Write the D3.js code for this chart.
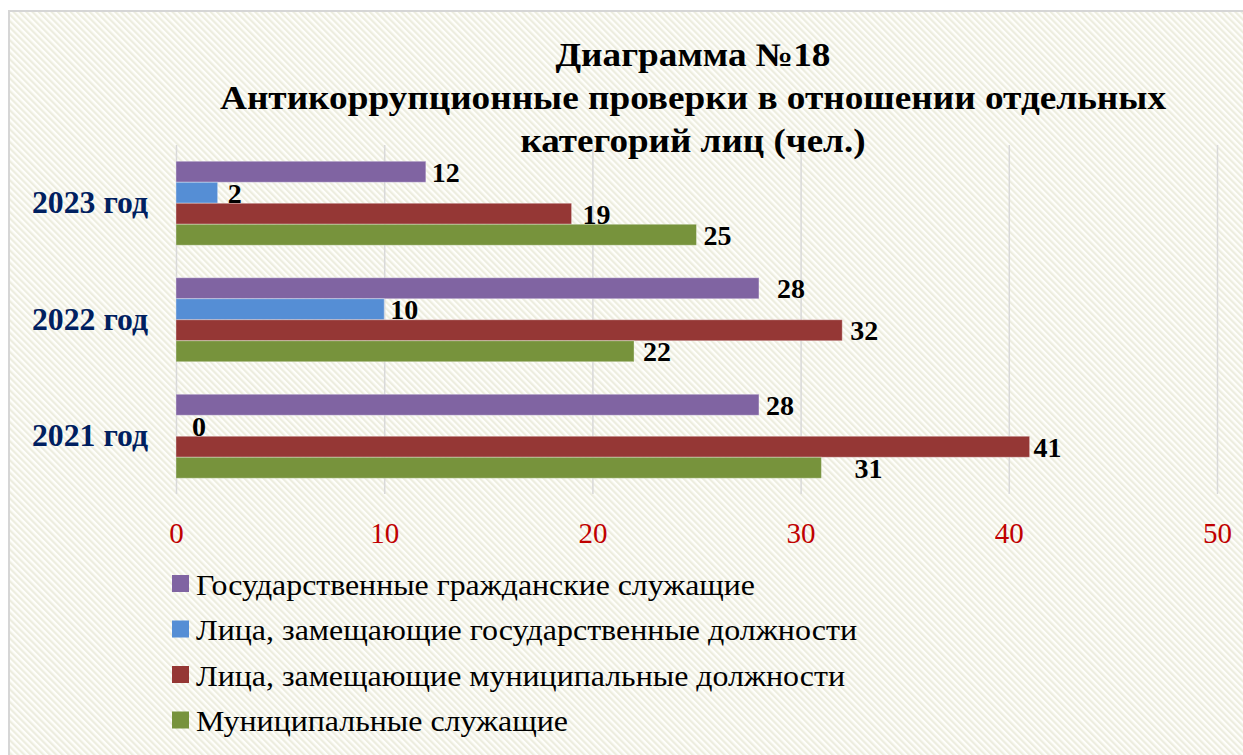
<!DOCTYPE html>
<html>
<head>
  <meta charset="utf-8">
  <title>Диаграмма №18</title>
  <script src="https://d3js.org/d3.v7.min.js"></script>
  <style>
    body, html {
      margin: 0;
      padding: 0;
      background: #ffffff;
      overflow: hidden;
    }
    svg {
      display: block;
      font-family: "Liberation Serif", "Times New Roman", serif;
    }
    .grid line { stroke: #d9d9d9; stroke-width: 1.5; }
    .grid .domain { display: none; }
  </style>
</head>
<body>
  <svg id="chart"></svg>

  <script>
    // values
    var years = ["2023 год", "2022 год", "2021 год"];
    var seriesNames = [
      "Государственные гражданские служащие",
      "Лица, замещающие государственные должности",
      "Лица, замещающие муниципальные должности",
      "Муниципальные служащие"
    ];
    var civilServants = [12, 28, 28];
    var stateOfficials = [2, 10, 0];
    var municipalOfficials = [19, 32, 41];
    var municipalServants = [25, 22, 31];
    var xTicks = [0, 10, 20, 30, 40, 50];
    var titleLines = [
      "Диаграмма №18",
      "Антикоррупционные проверки в отношении отдельных",
      "категорий лиц (чел.)"
    ];

    var colors = ["#8064a2", "#558ed5", "#953735", "#77933c"];
    // hand-dragged label offsets from the bar end (per year, per series)
    var labelDx = [[6, 10, 11, 7], [18, 6, 8, 9], [7, 16, 4, 33]];
    // the original font runs wider than Liberation Serif, so stretch to the measured widths
    var titleWidths = [275, 946, 345];
    var legendWidths = [559, 661, 649, 372];

    var allSeries = [civilServants, stateOfficials, municipalOfficials, municipalServants];
    var rows = [];
    years.forEach(function(yr, i) {
      seriesNames.forEach(function(s, j) {
        rows.push({ year: yr, series: s, value: allSeries[j][i], dx: labelDx[i][j], color: colors[j] });
      });
    });

    var width = 1243, height = 755;
    var svg = d3.select("#chart").attr("width", width).attr("height", height);

    // striped background
    var defs = svg.append("defs");
    var pat = defs.append("pattern")
      .attr("id", "stripes")
      .attr("width", 4.5)
      .attr("height", 10)
      .attr("patternUnits", "userSpaceOnUse")
      .attr("patternTransform", "rotate(-45)");
    pat.append("rect").attr("width", 4.5).attr("height", 10).attr("fill", "#fefefb");
    pat.append("rect").attr("width", 2.2).attr("height", 10).attr("fill", "#ededdf");

    svg.append("rect")
      .attr("x", 9).attr("y", 11)
      .attr("width", width).attr("height", height)
      .attr("fill", "url(#stripes)")
      .attr("stroke", "#d6d6d6")
      .attr("stroke-width", 2);

    var x = d3.scaleLinear().domain([0, 50]).range([176, 1217]);
    var y = d3.scaleBand().domain(years).range([145, 494.5]).paddingInner(0.279).paddingOuter(0.1395);
    var y1 = d3.scaleBand().domain(seriesNames).range([0, y.bandwidth()]);

    // gridlines
    svg.append("g")
      .attr("class", "grid")
      .attr("transform", "translate(0,494)")
      .call(d3.axisBottom(x).tickValues(xTicks).tickSize(-(494 - 145)).tickFormat(""));

    // x tick labels
    var xAxis = svg.append("g")
      .attr("transform", "translate(0,494)")
      .call(d3.axisBottom(x).tickValues(xTicks).tickSize(0).tickPadding(28));
    xAxis.select(".domain").remove();
    xAxis.selectAll("text")
      .attr("fill", "#c00000")
      .style("font-size", "29px")
      .style("font-family", "'Liberation Serif', serif");

    // category labels
    var yAxis = svg.append("g")
      .attr("transform", "translate(176,0)")
      .call(d3.axisLeft(y).tickSize(0).tickPadding(28));
    yAxis.select(".domain").remove();
    yAxis.selectAll("text")
      .attr("fill", "#002060")
      .attr("textLength", 116)
      .attr("lengthAdjust", "spacingAndGlyphs")
      .style("font-size", "31px")
      .style("font-weight", "bold")
      .style("font-family", "'Liberation Serif', serif");

    // bars
    svg.append("g").selectAll("rect")
      .data(rows)
      .join("rect")
      .attr("x", x(0))
      .attr("y", function(d) { return y(d.year) + y1(d.series); })
      .attr("width", function(d) { return x(d.value) - x(0); })
      .attr("height", y1.bandwidth())
      .attr("fill", function(d) { return d.color; })
      .attr("stroke", "rgba(255,255,255,0.35)")
      .attr("stroke-width", 1);

    // data labels
    svg.append("g").selectAll("text")
      .data(rows)
      .join("text")
      .attr("x", function(d) { return x(d.value) + d.dx; })
      .attr("y", function(d) { return y(d.year) + y1(d.series) + y1.bandwidth() / 2; })
      .attr("dy", "0.36em")
      .style("font-size", "28px")
      .style("font-weight", "bold")
      .attr("fill", "#000")
      .text(function(d) { return d.value; });

    // title
    svg.append("g").selectAll("text")
      .data(titleLines)
      .join("text")
      .attr("x", 693)
      .attr("y", function(d, i) { return 66 + i * 43; })
      .attr("text-anchor", "middle")
      .attr("textLength", function(d, i) { return titleWidths[i]; })
      .attr("lengthAdjust", "spacingAndGlyphs")
      .style("font-size", "33px")
      .style("font-weight", "bold")
      .attr("fill", "#000")
      .text(function(d) { return d; });

    // legend
    var legend = svg.append("g").selectAll("g")
      .data(seriesNames)
      .join("g")
      .attr("transform", function(d, i) { return "translate(172," + (584 + i * 45.5) + ")"; });
    legend.append("rect")
      .attr("x", 0).attr("y", -9)
      .attr("width", 17).attr("height", 17)
      .attr("fill", function(d, i) { return colors[i]; });
    legend.append("text")
      .attr("x", 24)
      .attr("dy", "0.35em")
      .attr("textLength", function(d, i) { return legendWidths[i]; })
      .attr("lengthAdjust", "spacingAndGlyphs")
      .style("font-size", "30px")
      .attr("fill", "#000")
      .text(function(d) { return d; });
  </script>
</body>
</html>
